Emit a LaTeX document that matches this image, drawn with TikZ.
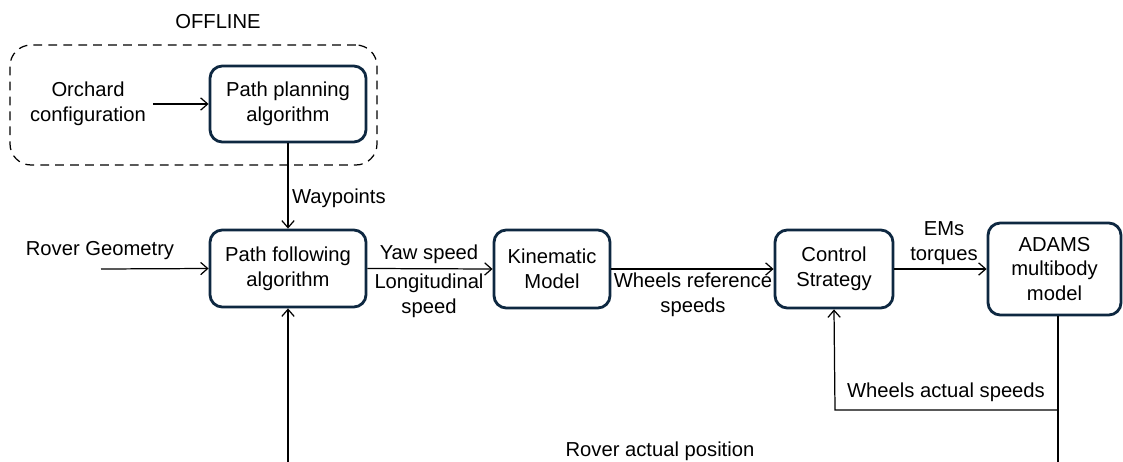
\documentclass[tikz,border=0pt]{standalone}
\usepackage{fontspec}
\setmainfont{Liberation Sans}
\usetikzlibrary{arrows.meta}
\definecolor{boxline}{HTML}{0E2841}
\tikzset{
	blk/.style={draw=boxline, line width=1.6pt, rounded corners=7pt, align=center, inner sep=0pt},
	lbl/.style={align=center, inner sep=1pt},
	wire/.style={line width=0.7pt},
	arr/.style={wire, -{Straight Barb[length=4pt,width=7pt]}},
	every node/.style={font=\fontsize{11.5}{14.2}\selectfont}
}

\begin{document}
\begin{tikzpicture}
	\useasboundingbox (0,0) rectangle (22.46,-9.24);
	% Blocks:
	\node[blk, minimum width=3.12cm, minimum height=1.52cm] (planning) at (5.76, -2.08) {Path planning\\algorithm};
	\node[blk, minimum width=3.12cm, minimum height=1.54cm] (following) at (5.76, -5.37) {Path following\\algorithm};
	\node[blk, minimum width=2.32cm, minimum height=1.56cm] (kinematic) at (11.04, -5.38) {Kinematic\\Model};
	\node[blk, minimum width=2.36cm, minimum height=1.56cm] (control) at (16.68, -5.38) {Control\\Strategy};
	\node[blk, minimum width=2.66cm, minimum height=1.84cm] (adams) at (21.09, -5.38) {ADAMS\\multibody\\model};
	% Offline group:
	\node[draw, wire, dash pattern=on 5pt off 3.5pt, rounded corners=12pt, minimum width=7.34cm, minimum height=2.4cm] (offline) at (3.87, -2.1) {};
	\node[lbl] (offlinetxt) at (4.36, -0.44) {OFFLINE};
	\node[lbl] (orchard) at (1.76, -2.08) {Orchard\\configuration};
	% Free ends:
	\coordinate (geo) at (2.02, -5.38);
	\coordinate (fb) at (16.7, -8.2);
	\coordinate (adamsend) at (21.16, -9.3);
	\coordinate (posend) at (5.76, -9.3);
	% Wires:
	\draw[arr] (orchard.east) ++(0.1,0) -- (planning.west);
	\draw[arr] (planning.south) -- (following.north);
	\draw[arr] (geo) -- (following.west);
	\draw[arr] (following.east) -- (kinematic.west);
	\draw[arr] (kinematic.east) -- (control.west);
	\draw[arr] (control.east) -- (control.east -| adams.west);
	\draw[arr] (adams.south -| adamsend) |- (fb) -- (control.south);
	\draw[wire] (adams.south -| adamsend) -- (adamsend);
	\draw[arr] (posend) -- (following.south);
	% Labels:
	\node[lbl, anchor=west] (waypoints) at (5.8, -3.96) {Waypoints};
	\node[lbl] (rovergeo) at (2.0, -5.02) {Rover Geometry};
	\node[lbl] (yaw) at (8.58, -5.08) {Yaw speed};
	\node[lbl] (longit) at (8.58, -5.91) {Longitudinal\\speed};
	\node[lbl] (wref) at (13.86, -5.89) {Wheels reference\\speeds};
	\node[lbl] (ems) at (18.88, -4.86) {EMs\\torques};
	\node[lbl] (wact) at (18.92, -7.84) {Wheels actual speeds};
	\node[lbl] (pos) at (13.2, -9.02) {Rover actual position};
\end{tikzpicture}
\end{document}
